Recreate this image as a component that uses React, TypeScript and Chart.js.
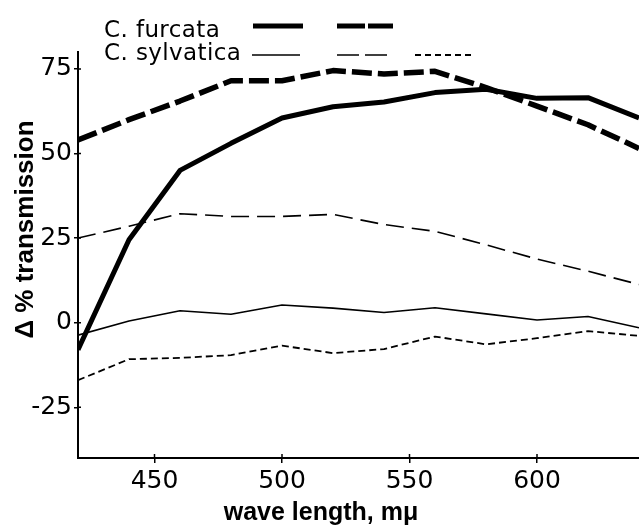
import React, { useEffect, useRef } from "react";
import { Chart, registerables } from "chart.js";
Chart.register(...registerables);

const wavelengths = [420, 440, 460, 480, 500, 520, 540, 560, 580, 600, 620, 640];
const furcataSolid = [-8, 24.5, 45, 53, 60.5, 63.8, 65.2, 68, 69, 66.3, 66.5, 60.5];
const furcataDashed = [54, 60, 65.5, 71.5, 71.5, 74.5, 73.5, 74.3, 69.5, 64, 58.5, 51.5];
const sylvaticaSolid = [-3.7, 0.5, 3.5, 2.5, 5.2, 4.3, 3, 4.4, 2.6, 0.8, 1.8, -1.5];
const sylvaticaLongDash = [25, 28.5, 32.2, 31.4, 31.4, 32, 29, 27, 23, 18.8, 15.2, 11.3];
const sylvaticaShortDash = [-17, -10.8, -10.4, -9.6, -6.8, -9, -7.8, -4.1, -6.4, -4.6, -2.5, -3.9];

const xTicks = [450, 500, 550, 600];
const yTicks = [-25, 0, 25, 50, 75];
const speciesNames = ["C. furcata", "C. sylvatica"];
const xTitle = "wave length, mμ";
const yTitle = "Δ % transmission";

const overlay = {
  id: "overlay",
  afterDraw(chart: any) {
    const ctx = chart.ctx as CanvasRenderingContext2D;
    const area = chart.chartArea;
    ctx.save();
    ctx.fillStyle = "#000";
    ctx.strokeStyle = "#000";
    // inner halves of the crossing tick marks
    ctx.lineWidth = 1.5;
    ctx.beginPath();
    xTicks.forEach((v) => {
      const px = chart.scales.x.getPixelForValue(v);
      ctx.moveTo(px, area.bottom);
      ctx.lineTo(px, area.bottom - 4);
    });
    yTicks.forEach((v) => {
      const py = chart.scales.y.getPixelForValue(v);
      ctx.moveTo(area.left, py);
      ctx.lineTo(area.left + 3, py);
    });
    ctx.stroke();
    // legend text
    ctx.font = '23px "DejaVu Sans"';
    (ctx as any).letterSpacing = "0.4px";
    ctx.textAlign = "left";
    ctx.textBaseline = "alphabetic";
    ctx.fillText(speciesNames[0], 104, 37);
    ctx.fillText(speciesNames[1], 104, 60);
    (ctx as any).letterSpacing = "0px";
    const seg = (x1: number, x2: number, y: number, w: number, dash: number[]) => {
      ctx.beginPath();
      ctx.lineWidth = w;
      ctx.lineCap = "butt";
      ctx.setLineDash(dash);
      ctx.moveTo(x1, y);
      ctx.lineTo(x2, y);
      ctx.stroke();
    };
    seg(253, 303, 26, 5, []);
    seg(337, 393, 26, 5, [28, 3]);
    seg(252, 300, 55, 1.6, []);
    seg(337, 392, 55, 1.6, [22, 6]);
    seg(415, 472, 55, 1.8, [6, 4]);
    ctx.setLineDash([]);
    // axis titles
    ctx.font = 'bold 25px "Liberation Sans"';
    ctx.textAlign = "center";
    ctx.fillText(xTitle, 321, 520);
    ctx.save();
    ctx.translate(32.5, 229.5);
    ctx.rotate(-Math.PI / 2);
    ctx.font = 'bold 26px "Liberation Sans"';
    ctx.fillText(yTitle, 0, 0);
    ctx.restore();
    ctx.restore();
  },
};

export default function App() {
  const ref = useRef<HTMLCanvasElement>(null);
  useEffect(() => {
    const pts = (vals: number[]) => wavelengths.map((w, i) => ({ x: w, y: vals[i] }));
    const base = { pointRadius: 0, tension: 0, borderColor: "#000", fill: false, borderCapStyle: "butt", borderJoinStyle: "round" };
    const chart = new Chart(ref.current as HTMLCanvasElement, {
      type: "line",
      data: {
        datasets: [
          { ...base, label: "C. furcata (solid)", data: pts(furcataSolid), borderWidth: 5 },
          { ...base, label: "C. furcata (dashed)", data: pts(furcataDashed), borderWidth: 5.5, borderDash: [20, 6] },
          { ...base, label: "C. sylvatica (solid)", data: pts(sylvaticaSolid), borderWidth: 1.6 },
          { ...base, label: "C. sylvatica (long dash)", data: pts(sylvaticaLongDash), borderWidth: 1.6, borderDash: [18, 8] },
          { ...base, label: "C. sylvatica (short dash)", data: pts(sylvaticaShortDash), borderWidth: 1.8, borderDash: [7, 4] },
        ] as any,
      },
      options: {
        animation: false,
        responsive: false,
        layout: { padding: { top: 52, right: 0, left: 0, bottom: 0 } },
        plugins: { legend: { display: false }, tooltip: { enabled: false }, title: { display: false } },
        scales: {
          x: {
            type: "linear",
            min: 420,
            max: 640,
            afterBuildTicks: (s: any) => {
              s.ticks = xTicks.map((v) => ({ value: v }));
            },
            afterFit: (s: any) => {
              s.height = 68;
            },
            ticks: { color: "#000", font: { family: "DejaVu Sans", size: 25 }, padding: 3, maxRotation: 0, autoSkip: false },
            grid: { drawOnChartArea: false, tickLength: 5, color: "#000", lineWidth: 1.5 },
            border: { color: "#000", width: 2 },
          },
          y: {
            type: "linear",
            min: -40,
            max: 80,
            afterBuildTicks: (s: any) => {
              s.ticks = yTicks.map((v) => ({ value: v }));
            },
            afterFit: (s: any) => {
              s.width = 78;
            },
            ticks: { color: "#000", font: { family: "DejaVu Sans", size: 25 }, padding: 2, autoSkip: false },
            grid: { drawOnChartArea: false, tickLength: 4, color: "#000", lineWidth: 1.5 },
            border: { color: "#000", width: 2 },
          },
        },
      } as any,
      plugins: [overlay],
    });
    return () => chart.destroy();
  }, []);
  return (
    <div style={{ position: "absolute", left: 0, top: 0, width: 639, height: 526, background: "#fff" }}>
      <canvas ref={ref} width={639} height={526} style={{ display: "block" }} />
    </div>
  );
}
